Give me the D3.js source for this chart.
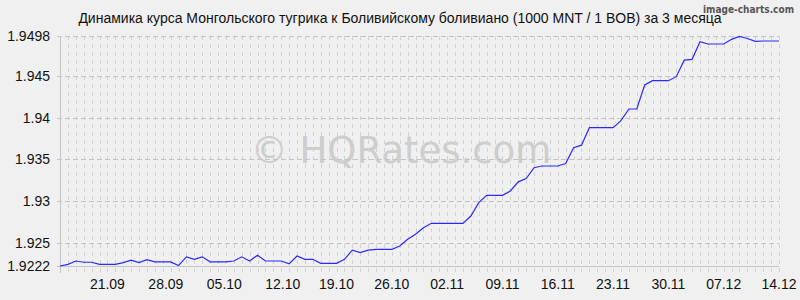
<!DOCTYPE html>
<html>
<head>
<meta charset="utf-8">
<script src="https://cdn.jsdelivr.net/npm/d3@7"></script>
<style>
  body { margin: 0; background: #f0f0f0; }
  svg { display: block; font-family: "Liberation Sans", Arial, sans-serif; }
</style>
</head>
<body>
<svg width="800" height="300"></svg>
<script>
// MNT/BOB rate, one value per day, 14.09 .. 14.12
var rates = [
  1.9222, 1.9224, 1.9228, 1.92265, 1.92265, 1.9224, 1.9224, 1.9224, 1.9226, 1.9229,
  1.9226, 1.92295, 1.9227, 1.9227, 1.9227, 1.92225, 1.9233, 1.9230, 1.9233, 1.9227,
  1.9227, 1.9227, 1.9228, 1.9233, 1.9228, 1.9235, 1.9228, 1.9228, 1.9228, 1.92245,
  1.9234, 1.9230, 1.9230, 1.92252, 1.92252, 1.92252, 1.9230, 1.9241, 1.9238, 1.9241,
  1.9242, 1.9242, 1.9242, 1.9246, 1.9254, 1.9260, 1.9268, 1.92732, 1.92732, 1.92732,
  1.92732, 1.92732, 1.9282, 1.9298, 1.93068, 1.93068, 1.93068, 1.9312, 1.9323, 1.9327,
  1.9340, 1.9342, 1.9342, 1.9342, 1.9345, 1.9364, 1.9367, 1.9388, 1.9388, 1.9388,
  1.9388, 1.93964, 1.94104, 1.94104, 1.94392, 1.94444, 1.94444, 1.94444, 1.94492, 1.9469,
  1.9470, 1.94912, 1.94884, 1.94884, 1.94884, 1.9494, 1.94976, 1.9495, 1.94916, 1.9492,
  1.9492, 1.9492
];
var yTicks = [1.9222, 1.925, 1.93, 1.935, 1.94, 1.945, 1.9498];
var xLabels = ["21.09", "28.09", "05.10", "12.10", "19.10", "26.10", "02.11", "09.11", "16.11", "23.11", "30.11", "07.12", "14.12"];
var xLabelDays = [6, 13.4, 20.8, 28.2, 35, 42, 49, 56, 63, 70, 77, 84, 91];
var title = "Динамика курса Монгольского тугрика к Боливийскому боливиано (1000 MNT / 1 BOB) за 3 месяца";

var plotLeft = 60, plotRight = 779, plotTop = 36, plotBottom = 266;

var svg = d3.select("svg");

var x = d3.scaleLinear().domain([0, rates.length - 1]).range([plotLeft, plotRight]);
var y = d3.scaleLinear().domain([yTicks[0], yTicks[yTicks.length - 1]]).range([plotBottom, plotTop]);

// watermark
svg.append("text")
  .attr("x", 401).attr("y", 163)
  .attr("text-anchor", "middle")
  .attr("font-family", "DejaVu Sans, sans-serif")
  .attr("font-size", 37)
  .attr("fill", "#cdcdcd")
  .text("© HQRates.com");

// vertical day grid
svg.append("g").selectAll("line")
  .data(d3.range(rates.length))
  .join("line")
  .attr("x1", d => Math.round(x(d)) + 0.5).attr("x2", d => Math.round(x(d)) + 0.5)
  .attr("y1", plotTop).attr("y2", plotBottom + 7)
  .attr("stroke", "#d2d2d2")
  .attr("stroke-dasharray", "4,4");

// horizontal grid at ticks
svg.append("g").selectAll("line")
  .data(yTicks)
  .join("line")
  .attr("x1", plotLeft - 3).attr("x2", plotRight)
  .attr("y1", d => Math.round(y(d)) + 0.5).attr("y2", d => Math.round(y(d)) + 0.5)
  .attr("stroke", "#c4c4c4")
  .attr("stroke-dasharray", d => d === yTicks[0] ? null : "5,3");

// left axis line
svg.append("line")
  .attr("x1", plotLeft + 0.5).attr("x2", plotLeft + 0.5)
  .attr("y1", plotTop).attr("y2", plotBottom + 7)
  .attr("stroke", "#c4c4c4");

// y labels
svg.append("g").selectAll("text")
  .data(yTicks)
  .join("text")
  .attr("x", 50).attr("y", d => y(d) + 5)
  .attr("text-anchor", "end")
  .attr("font-size", 14)
  .attr("fill", "#111")
  .text(d => d);

// x labels
svg.append("g").selectAll("text")
  .data(xLabels)
  .join("text")
  .attr("x", (d, i) => x(xLabelDays[i]))
  .attr("y", 289)
  .attr("text-anchor", "middle")
  .attr("font-size", 14)
  .attr("fill", "#111")
  .text(d => d);

// rate line
var line = d3.line().x((d, i) => x(i)).y(d => y(d));
svg.append("path")
  .datum(rates)
  .attr("d", line)
  .attr("fill", "none")
  .attr("stroke", "#2a2aff")
  .attr("stroke-width", 1.2);

// title
svg.append("text")
  .attr("x", 400).attr("y", 23)
  .attr("text-anchor", "middle")
  .attr("font-size", 14)
  .attr("fill", "#111")
  .text(title);

svg.append("text")
  .attr("x", 794).attr("y", 13)
  .attr("text-anchor", "end")
  .attr("font-family", "DejaVu Sans Condensed, DejaVu Sans, sans-serif")
  .attr("font-size", 10)
  .attr("font-weight", "bold")
  .attr("fill", "#555")
  .text("image-charts.com");
</script>
</body>
</html>
